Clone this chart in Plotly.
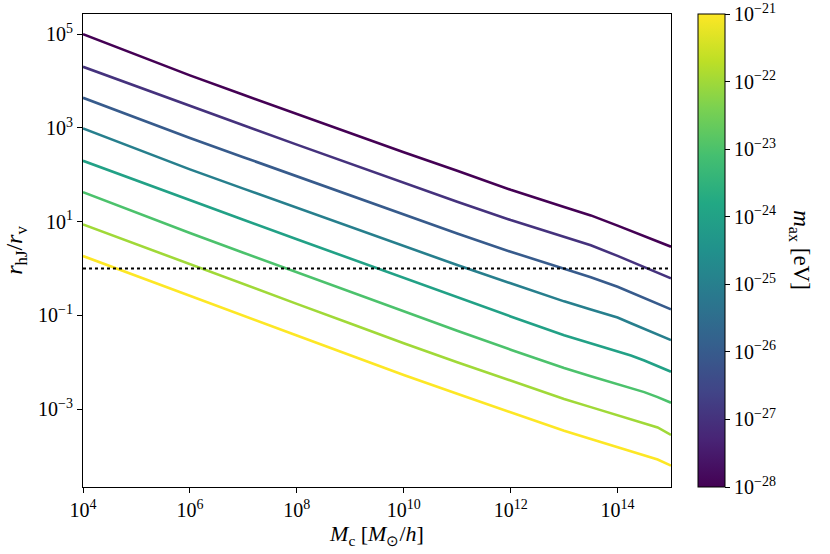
import numpy as np
import plotly.graph_objects as go
from plotly.colors import sample_colorscale

# halo masses, log10(M_c / (M_sun/h))
log_mass = [4, 5, 6, 7, 8, 9, 10, 11, 12, 13, 13.5, 14, 14.25, 14.5, 14.75, 15]

# axion masses, log10(m_ax / eV)
log_m_ax = [-28, -27, -26, -25, -24, -23, -22, -21]

# log10(r_hJ / r_v) for each axion mass
log_ratio_m28 = [5.0, 4.557, 4.12, 3.708, 3.297, 2.888, 2.48, 2.084, 1.68, 1.313, 1.134, 0.915, 0.802, 0.69, 0.577, 0.465]
log_ratio_m27 = [4.303, 3.883, 3.468, 3.056, 2.644, 2.232, 1.82, 1.424, 1.036, 0.667, 0.497, 0.271, 0.151, 0.031, -0.089, -0.209]
log_ratio_m26 = [3.642, 3.212, 2.785, 2.375, 1.965, 1.555, 1.144, 0.749, 0.359, -0.014, -0.185, -0.39, -0.51, -0.63, -0.75, -0.87]
log_ratio_m25 = [2.989, 2.55, 2.116, 1.705, 1.294, 0.883, 0.472, 0.075, -0.314, -0.70, -0.874, -1.046, -1.166, -1.286, -1.406, -1.525]
log_ratio_m24 = [2.299, 1.876, 1.454, 1.04, 0.625, 0.211, -0.204, -0.614, -1.022, -1.423, -1.599, -1.769, -1.854, -1.96, -2.08, -2.2]
log_ratio_m23 = [1.631, 1.193, 0.758, 0.338, -0.082, -0.502, -0.921, -1.328, -1.73, -2.122, -2.296, -2.466, -2.551, -2.636, -2.742, -2.862]
log_ratio_m22 = [0.942, 0.515, 0.09, -0.333, -0.754, -1.174, -1.595, -1.998, -2.393, -2.783, -2.956, -3.125, -3.21, -3.294, -3.39, -3.55]
log_ratio_m21 = [0.267, -0.16, -0.585, -1.006, -1.427, -1.848, -2.27, -2.673, -3.07, -3.459, -3.634, -3.806, -3.892, -3.978, -4.073, -4.205]

all_ratios = [log_ratio_m28, log_ratio_m27, log_ratio_m26, log_ratio_m25,
              log_ratio_m24, log_ratio_m23, log_ratio_m22, log_ratio_m21]

x_tick_exp = [4, 6, 8, 10, 12, 14]
y_tick_exp = [5, 3, 1, -1, -3]

FONT = "Liberation Serif"

# matplotlib viridis, 11 stops
viridis = [
    [0.0, "#440154"], [0.1, "#482475"], [0.2, "#414487"], [0.3, "#355f8d"],
    [0.4, "#2a788e"], [0.5, "#21918c"], [0.6, "#22a884"], [0.7, "#44bf70"],
    [0.8, "#7ad151"], [0.9, "#bddf26"], [1.0, "#fde725"],
]

mass = 10 ** np.array(log_mass, dtype=float)
norm = [(m - log_m_ax[0]) / (log_m_ax[-1] - log_m_ax[0]) for m in log_m_ax]
colors = sample_colorscale(viridis, norm)

fig = go.Figure()

for ratio, col in zip(all_ratios, colors):
    fig.add_trace(
        go.Scatter(
            x=mass,
            y=10 ** np.array(ratio, dtype=float),
            mode="lines",
            line=dict(color=col, width=2.6),
            showlegend=False,
            hoverinfo="skip",
        )
    )

# r_hJ = r_v reference line
fig.add_trace(
    go.Scatter(
        x=[mass[0], mass[-1]],
        y=[1, 1],
        mode="lines",
        line=dict(color="black", width=2, dash="dot"),
        showlegend=False,
        hoverinfo="skip",
    )
)

# dummy trace to carry the colorbar
fig.add_trace(
    go.Scatter(
        x=[None],
        y=[None],
        mode="markers",
        showlegend=False,
        marker=dict(
            color=[log_m_ax[0]],
            colorscale=viridis,
            cmin=log_m_ax[0],
            cmax=log_m_ax[-1],
            showscale=True,
            colorbar=dict(
                thickness=27,
                len=1,
                lenmode="fraction",
                y=0.5,
                yanchor="middle",
                x=1.046,
                xanchor="left",
                xpad=0,
                ypad=0,
                outlinecolor="black",
                outlinewidth=1,
                tickvals=log_m_ax,
                ticktext=[f"10<sup>\u2212{abs(v)}</sup>" for v in log_m_ax],
                ticks="outside",
                ticklen=5,
                tickcolor="black",
                tickfont=dict(family=FONT, size=20, color="black"),
            ),
        ),
    )
)

fig.update_xaxes(
    type="log",
    range=[4, 15],
    tickvals=[10.0 ** e for e in x_tick_exp],
    ticktext=[f"10<sup>{e}</sup>" for e in x_tick_exp],
    ticks="outside",
    ticklen=5,
    tickcolor="black",
    showline=True,
    linecolor="black",
    linewidth=1,
    mirror=True,
    showgrid=False,
    zeroline=False,
    automargin=False,
    tickfont=dict(family=FONT, size=20, color="black"),
    title=dict(
        text="<i>M</i><sub>c</sub> [<i>M</i><sub>\u2299</sub>/<i>h</i>]",
        font=dict(family=FONT, size=22, color="black"),
        standoff=0,
    ),
)

fig.update_yaxes(
    type="log",
    range=[-4.66, 5.43],
    tickvals=[10.0 ** e for e in y_tick_exp],
    ticktext=[f"10<sup>{e}</sup>".replace("-", "\u2212") for e in y_tick_exp],
    ticks="outside",
    ticklen=5,
    tickcolor="black",
    showline=True,
    linecolor="black",
    linewidth=1,
    mirror=True,
    showgrid=False,
    zeroline=False,
    automargin=False,
    tickfont=dict(family=FONT, size=20, color="black"),
    title=dict(
        text="<i>r</i><sub>hJ</sub>/<i>r</i><sub>v</sub>",
        font=dict(family=FONT, size=24, color="black"),
        standoff=8,
    ),
)

fig.update_layout(
    width=830,
    height=554,
    margin=dict(l=83, r=159, t=14, b=67),
    plot_bgcolor="white",
    paper_bgcolor="white",
    font=dict(family=FONT, color="black"),
    annotations=[
        dict(
            text="<i>m</i><sub>ax</sub> [eV]",
            textangle=90,
            x=1.22,
            y=0.5,
            xref="paper",
            yref="paper",
            xanchor="center",
            yanchor="middle",
            showarrow=False,
            font=dict(family=FONT, size=23, color="black"),
        )
    ],
)

# drop the page's default body margin so the figure sits at the window corner
fig.write_html(
    "out.html",
    config={"displayModeBar": False},
    post_script="document.body.style.margin='0px';",
)
